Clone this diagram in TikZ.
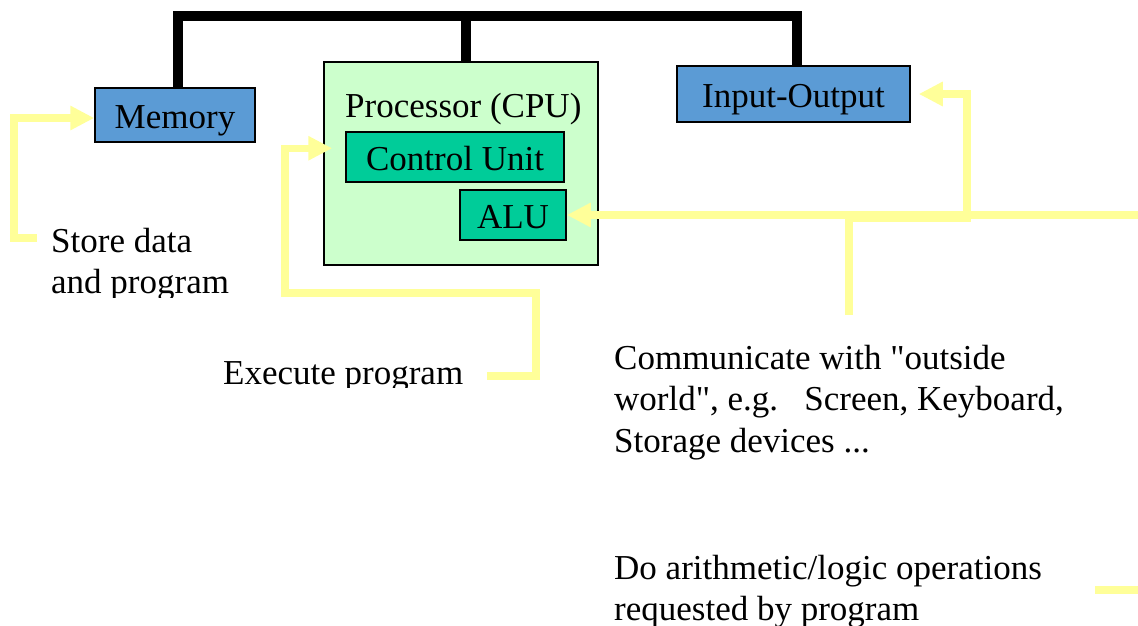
\documentclass[tikz,border=0pt]{standalone}
\usepackage{fontspec}
\setmainfont{Liberation Serif}[Ligatures=TeXOff]
\usetikzlibrary{arrows.meta,calc}
\definecolor{boxblue}{HTML}{5B9BD5}
\definecolor{cpugreen}{HTML}{CCFFCC}
\definecolor{unitgreen}{HTML}{00CC99}
\definecolor{flowyellow}{HTML}{FFFF99}
\begin{document}
\begin{tikzpicture}[x=1pt,y=-1pt,
  txt/.style={font=\fontsize{35}{41.5}\selectfont, inner sep=0pt, anchor=base west, align=left},
  unit/.style={draw=black, line width=1.5pt, inner sep=0pt,
    font=\fontsize{35}{41.5}\selectfont, text height=27pt, text depth=0pt},
  bus/.style={draw=black, line width=10pt, line join=miter},
  flow/.style={draw=flowyellow, line width=7.5pt, line join=miter,
    -{Triangle[length=24pt,width=23pt]}}]

\useasboundingbox (0,0) rectangle (1138,625);

% system bus
\coordinate (bustop) at (0,16);

% the three units
\node[unit, fill=boxblue, minimum width=160pt, minimum height=54pt] (mem) at (175,115) {Memory};
\node[unit, fill=cpugreen, minimum width=274pt, minimum height=203pt] (cpu) at (461,163.5) {};
\node[txt] (cputitle) at (345,117) {Processor (CPU)};
\node[unit, fill=unitgreen, minimum width=218pt, minimum height=50pt] (cu) at (455,157) {Control Unit};
\node[unit, fill=unitgreen, minimum width=106pt, minimum height=50pt] (alu) at (513,215) {ALU};
\node[unit, fill=boxblue, minimum width=233pt, minimum height=56pt] (io) at (793.5,94) {Input-Output};

\draw[bus] ([xshift=3pt]mem.north) |- ([xshift=3.5pt]io.north |- bustop) -- ([xshift=3.5pt]io.north);
\draw[bus] ([xshift=5pt]cpu.north) -- ([xshift=5pt]cpu.north |- bustop);

% captions (multi-line nodes are placed by the baseline of their last line)
\begin{scope}
  \clip (0,0) rectangle (320,297);
  \node[txt] (store) at (51,293.5) {Store data\\and program};
\end{scope}
\begin{scope}
  \clip (200,330) rectangle (480,387);
  \node[txt] (exec) at (223,384) {Execute program};
\end{scope}
\node[txt] (comm) at (614,452) {Communicate with "outside\\world", e.g.\ \ \ Screen, Keyboard,\\Storage devices ...};
\node[txt] (arith) at (614,620.5) {Do arithmetic/logic operations\\requested by program};

% pointers from the captions
\coordinate (storeend) at (37,238);
\coordinate (execend) at (487,376);
\coordinate (commend) at (849,315);
\coordinate (arithend) at (1095,590);

\draw[flow] (storeend) -- (14,238) |- ([yshift=-3pt]mem.west);
\draw[flow] (execend) -| (536,293) -- (285,293) |- ($(cpu.north west)+(9,87)$);
\draw[flow] (arithend) -- (1170,590) |- (alu.east);
\draw[flow] (commend) -- (849,218.5) -| (967,94) -- ([xshift=8pt]io.east);

\end{tikzpicture}
\end{document}
